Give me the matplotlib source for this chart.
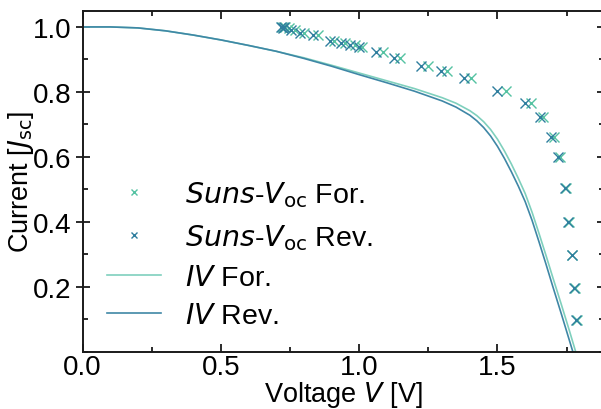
import matplotlib
matplotlib.use("Agg")
import matplotlib.pyplot as plt
from matplotlib.ticker import MultipleLocator, FixedLocator

plt.rcParams["font.family"] = ["Liberation Sans", "DejaVu Sans"]
plt.rcParams["mathtext.fontset"] = "dejavusans"

# IV sweeps (normalised current vs voltage)
iv_rev_v = [0.00, 0.10, 0.20, 0.30, 0.40, 0.50, 0.60, 0.70, 0.80, 0.90, 1.00, 1.10,
            1.20, 1.30, 1.35, 1.40, 1.425, 1.45, 1.475, 1.50, 1.525, 1.55, 1.575, 1.60,
            1.625, 1.65, 1.675, 1.70, 1.73, 1.76, 1.78, 1.82]
iv_rev_i = [1.000, 1.000, 0.997, 0.988, 0.975, 0.960, 0.943, 0.925, 0.903, 0.879, 0.853, 0.828,
            0.802, 0.772, 0.753, 0.728, 0.711, 0.690, 0.664, 0.632, 0.595, 0.554, 0.510, 0.462,
            0.404, 0.338, 0.270, 0.200, 0.118, 0.034, -0.022, -0.130]

iv_for_v = [0.00, 0.10, 0.20, 0.30, 0.40, 0.50, 0.60, 0.70, 0.80, 0.90, 1.00, 1.10,
            1.20, 1.30, 1.35, 1.40, 1.425, 1.45, 1.475, 1.50, 1.525, 1.55, 1.575, 1.60,
            1.625, 1.65, 1.675, 1.70, 1.73, 1.76, 1.79, 1.83]
iv_for_i = [1.000, 1.000, 0.997, 0.988, 0.975, 0.960, 0.943, 0.925, 0.905, 0.882, 0.858, 0.834,
            0.810, 0.782, 0.765, 0.742, 0.727, 0.708, 0.684, 0.654, 0.618, 0.578, 0.534, 0.487,
            0.429, 0.364, 0.297, 0.228, 0.147, 0.064, -0.022, -0.130]

# Suns-Voc pseudo-IV points
suns_rev_v = [0.718, 0.725, 0.730, 0.755, 0.787, 0.832, 0.895, 0.935, 0.968, 1.000, 1.062, 1.125,
              1.225, 1.295, 1.380, 1.498, 1.598, 1.652, 1.693, 1.717, 1.745, 1.756, 1.769, 1.778, 1.785]
suns_rev_i = [1.000, 0.998, 1.000, 0.990, 0.982, 0.975, 0.958, 0.951, 0.945, 0.938, 0.922, 0.904,
              0.881, 0.865, 0.842, 0.802, 0.765, 0.722, 0.660, 0.600, 0.505, 0.400, 0.298, 0.195, 0.097]

suns_for_v = [0.722, 0.733, 0.745, 0.768, 0.800, 0.850, 0.910, 0.950, 0.985, 1.012, 1.085, 1.148,
              1.248, 1.318, 1.405, 1.532, 1.620, 1.664, 1.705, 1.725, 1.748, 1.758, 1.771, 1.780, 1.786]
suns_for_i = [0.999, 1.000, 0.997, 0.989, 0.981, 0.974, 0.958, 0.950, 0.944, 0.938, 0.922, 0.904,
              0.881, 0.865, 0.842, 0.802, 0.765, 0.722, 0.660, 0.600, 0.505, 0.400, 0.298, 0.195, 0.097]

y_major = [0.2, 0.4, 0.6, 0.8, 1.0]

c_for = "#55c2a2"
c_rev = "#2f7e9e"
fs_tick = 20
fs_label = 19.5
fs_leg = 20.5

fig = plt.figure(figsize=(6.01, 4.10), dpi=100)
ax = fig.add_axes([82.5 / 601, 57.5 / 410, 521.5 / 601, 340.8 / 410])

ax.plot(suns_for_v, suns_for_i, "x", color=c_for, ms=6.5, mew=1.0, label=r"$Suns$-$V_{\rm oc}$ For.")
ax.plot(suns_rev_v, suns_rev_i, "x", color=c_rev, ms=6.5, mew=1.0, label=r"$Suns$-$V_{\rm oc}$ Rev.")
ax.plot(iv_for_v, iv_for_i, "-", color="#7fd0bd", lw=1.2, label=r"$IV$ For.")
ax.plot(iv_rev_v, iv_rev_i, "-", color="#3f87a6", lw=1.2, label=r"$IV$ Rev.")

ax.set_xlim(0, 1.885)
ax.set_ylim(0, 1.05)
ax.xaxis.set_major_locator(MultipleLocator(0.5))
ax.xaxis.set_minor_locator(MultipleLocator(0.25))
ax.yaxis.set_major_locator(FixedLocator(y_major))
ax.yaxis.set_minor_locator(MultipleLocator(0.1))

for s in ax.spines.values():
    s.set_linewidth(1.4)
    s.set_color("#1a1a1a")

ax.tick_params(axis="both", which="both", top=True, right=True, direction="in",
               labelsize=fs_tick, color="#1a1a1a", width=1.3)
ax.tick_params(axis="both", which="major", length=6)
ax.tick_params(axis="both", which="minor", length=3.5)
ax.tick_params(axis="y", which="major", direction="inout", length=10, pad=3)
ax.tick_params(axis="x", which="major", pad=2)

ax.set_xlabel(r"Voltage $V$ [V]", fontsize=fs_label)
ax.set_ylabel(r"Current [$J_{\rm sc}$]", fontsize=fs_label)
ax.xaxis.set_label_coords(0.5, -0.081)
ax.yaxis.set_label_coords(-0.09, 0.5)

leg = ax.legend(loc="center left", bbox_to_anchor=(0.025, 0.285), frameon=False,
                fontsize=fs_leg, markerscale=0.7, handlelength=1.9, handletextpad=0.85,
                labelspacing=0.45, borderaxespad=0)

fig.savefig("out.png", dpi=100)
